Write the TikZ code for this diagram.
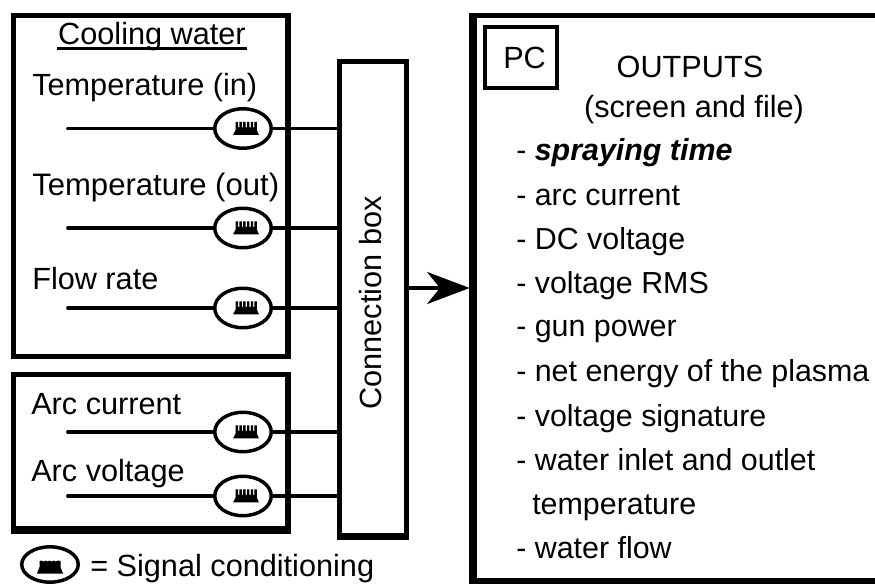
\documentclass[tikz,border=0pt]{standalone}
\usepackage{fontspec}
\setmainfont{Liberation Sans}
\usetikzlibrary{shapes.geometric,arrows.meta}
\tikzset{
  x=0.75pt,y=-0.75pt,
  frame/.style={draw=black,line width=3.9pt,rectangle,inner sep=0pt,fill=none},
  wire/.style={draw=black,line width=2.9pt,line cap=round},
  sensor/.style={draw=black,line width=2.6pt,ellipse,minimum width=42.4pt,minimum height=29.6pt,inner sep=0pt,fill=white},
  lbl/.style={font=\fontsize{23pt}{26pt}\selectfont,anchor=base west,inner sep=0pt,text=black},
  lst/.style={lbl,font=\fontsize{22.8pt}{26pt}\selectfont},
  comb/.pic={\fill[black] (-13,6.5) -- (-10.5,1.5) -- (-10.5,-6.5) -- (-8,-6.5) -- (-8,-1) -- (-6.6,-1) -- (-6.6,-6.5) -- (-4.2,-6.5) -- (-4.2,-1) -- (-2.8,-1) -- (-2.8,-6.5) -- (-0.4,-6.5) -- (-0.4,-1) -- (1,-1) -- (1,-6.5) -- (3.4,-6.5) -- (3.4,-1) -- (4.8,-1) -- (4.8,-6.5) -- (7.2,-6.5) -- (7.2,-1) -- (8.4,-1) -- (8.4,-6.5) -- (10.8,-6.5) -- (10.8,1.5) -- (13,6.5) -- cycle;},
  combsolid/.pic={\fill[black] (-13,6.5) -- (-10.5,0) -- (-10.5,-6) -- (-8.5,-6.5) -- (-6.5,-5.5) -- (-4.5,-6.5) -- (-2.5,-5.5) -- (-0.5,-6.5) -- (1.5,-5.5) -- (3.5,-6.5) -- (5.5,-5.5) -- (7.5,-6.5) -- (10.5,-6) -- (10.5,0) -- (13,6.5) -- cycle;}
}
\begin{document}
\begin{tikzpicture}
\useasboundingbox (0,0) rectangle (875,584);
\fill[white] (0,0) rectangle (875,584);
% outer boxes
\node (cool) [frame,minimum width=205.9pt,minimum height=255.75pt] at (150.75,186) {};
\node (arc) [frame,minimum width=205.9pt,minimum height=115.5pt] at (150.75,451.5) {};
\fill[black] (11,526) rectangle (291,534);
\node (conn) [frame,minimum width=50.25pt,minimum height=356pt] at (373,298.75) {};
\fill[black] (337,533) rectangle (409,540);
% PC frame (runs off the right and bottom edges)
\fill[black] (469,13) rectangle (875,18);
\fill[black] (469,13) rectangle (476.5,584);
\fill[black] (469,578) rectangle (875,584);
\node (pcframe) at (470,288) [inner sep=0pt,minimum size=0pt] {};
\node (pc) [frame,line width=3pt,minimum width=54pt,minimum height=45.75pt] at (521,57.5) {};
% signal lines and conditioning units
\foreach \n/\y in {s1/128.5,s2/228,s3/308,s4/432,s5/496}{
  \coordinate (\n in) at (68,\y);
  \node (\n) [sensor] at (243,\y) {};
  \draw[wire] (\n in) -- (\n.west);
  \draw[wire,line cap=butt] (\n.east) -- (\n.east -| conn.west);
  \pic at (246,\y) {comb};
}
% arrow
\draw[line width=2.9pt,-{Stealth[length=32pt,width=24pt,inset=9.7pt]}] (conn.east |- pcframe) -- (pcframe);
% legend
\node (leg) [sensor,minimum width=42.4pt,minimum height=26.5pt] at (50,564.5) {};
\pic at (50,567) {combsolid};
% texts
\node (tconn) [rotate=90,font=\fontsize{23pt}{26pt}\selectfont,inner sep=0pt,anchor=base] at (381,303) {Connection box};
\node (t1) [lbl,anchor=base] at (152,45) {Cooling water};
\draw[line width=1.9pt] (57,48.5) -- (247,48.5);
\node (t2) [lbl] at (32,96) {Temperature (in)};
\node (t3) [lbl,font=\fontsize{23.3pt}{26pt}\selectfont] at (32,195.5) {Temperature (out)};
\node (t4) [lbl] at (32,290) {Flow rate};
\node (t5) [lbl] at (31,415) {Arc current};
\node (t6) [lbl] at (31,482) {Arc voltage};
\node (t7) [lbl] at (90,576) {= Signal conditioning};
\node (t8) [lbl] at (503,68.5) {PC};
\node (t9) [lbl,anchor=base] at (690,77.5) {OUTPUTS};
\node (t10) [lbl,anchor=base] at (694,118) {(screen and file)};
\node (t11) [lst] at (516,161) {- \textbf{\textit{spraying time}}};
\node (t12) [lst] at (516,206) {- arc current};
\node (t13) [lst] at (516,250) {- DC voltage};
\node (t14) [lst] at (516,294) {- voltage RMS};
\node (t15) [lst] at (516,337) {- gun power};
\node (t16) [lst] at (516,382) {- net energy of the plasma};
\node (t17) [lst] at (516,427) {- voltage signature};
\node (t18) [lst] at (516,471) {- water inlet and outlet};
\node (t19) [lst] at (532,514) {temperature};
\node (t20) [lst] at (516,558) {- water flow};
\end{tikzpicture}
\end{document}
